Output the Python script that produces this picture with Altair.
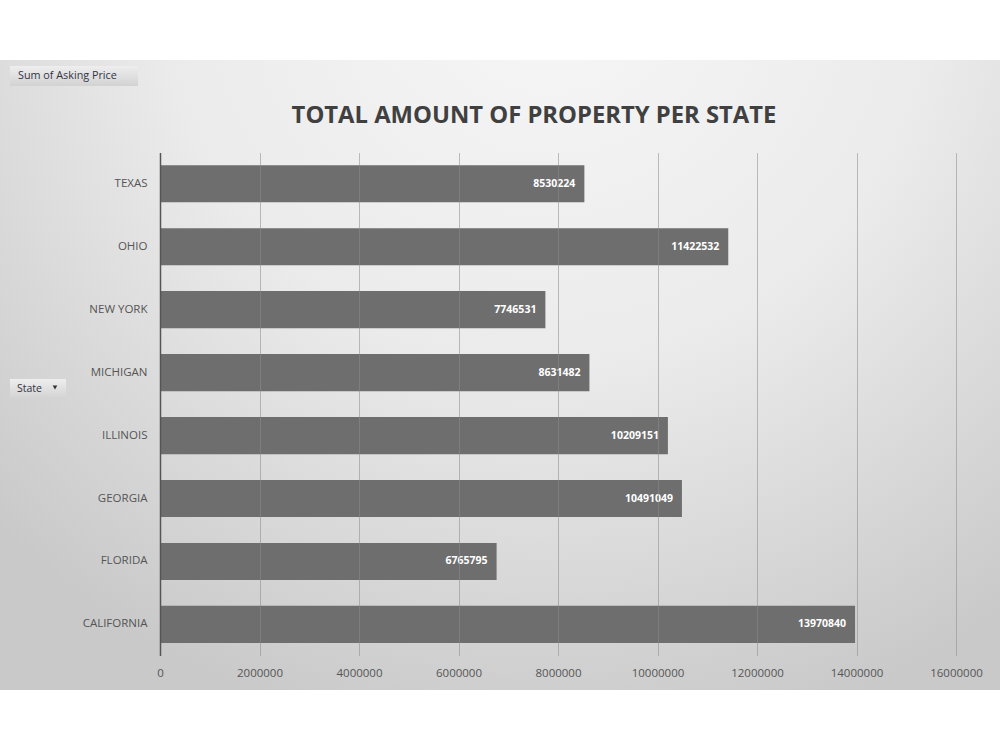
import altair as alt
import pandas as pd

# Pivot-chart values: sum of asking price per state
states = ["TEXAS", "OHIO", "NEW YORK", "MICHIGAN", "ILLINOIS", "GEORGIA", "FLORIDA", "CALIFORNIA"]
asking_totals = [8530224, 11422532, 7746531, 8631482, 10209151, 10491049, 6765795, 13970840]
x_ticks = [0, 2000000, 4000000, 6000000, 8000000, 10000000, 12000000, 14000000, 16000000]

df = pd.DataFrame({"State": states, "Total": asking_totals})

W, H = 796, 503
LEFT, TOP = 160, 152.6
LABEL_GRAY = "#555555"
FONT = "Open Sans"

one_row = alt.Data(values=[{}])

# Soft radial backdrop behind the whole chart area
backdrop = alt.Chart(one_row).mark_rect(
    fill=alt.RadialGradient(
        gradient="radial",
        x1=0.55, y1=0.1, r1=0,
        x2=0.55, y2=0.1, r2=0.78,
        stops=[
            alt.GradientStop(offset=0, color="#f7f7f7"),
            alt.GradientStop(offset=0.5, color="#ebebeb"),
            alt.GradientStop(offset=1, color="#c9c9c9"),
        ],
    )
).encode(
    x=alt.value(-LEFT), x2=alt.value(1000 - LEFT),
    y=alt.value(60 - TOP), y2=alt.value(690 - TOP),
)

x_enc = alt.X(
    "Total:Q",
    scale=alt.Scale(domain=[0, 16000000], nice=False),
    axis=alt.Axis(
        values=x_ticks, format="d", title=None, grid=True,
        gridColor="#8c8c8c", gridOpacity=0.55, gridWidth=1,
        ticks=False, domain=False, labelPadding=12,
        labelFontSize=11.5, labelColor=LABEL_GRAY, labelFont=FONT,
        labelOverlap=False, labelFlush=False, zindex=1,
    ),
)
y_enc = alt.Y(
    "State:N",
    sort=states,
    scale=alt.Scale(paddingInner=0.41, paddingOuter=0.2),
    axis=alt.Axis(
        title=None, ticks=False, domain=True, domainColor="#555555",
        domainWidth=1.5, labelPadding=13, labelFontSize=11.5,
        labelColor=LABEL_GRAY, labelFont=FONT, zindex=1,
    ),
)

bars = alt.Chart(df).mark_bar(color="#6e6e6e").encode(x=x_enc, y=y_enc)

values = alt.Chart(df).mark_text(
    align="right", baseline="middle", dx=-9, color="white",
    fontWeight="bold", fontSize=10.5, font=FONT,
).encode(x=x_enc, y=y_enc, text=alt.Text("Total:Q", format="d"))

title = alt.Chart(one_row).mark_text(
    text="TOTAL AMOUNT OF PROPERTY PER STATE", align="center", baseline="middle",
    font=FONT, fontWeight="bold", fontSize=23.8, color="#404040",
).encode(x=alt.value(534 - LEFT), y=alt.value(116 - TOP))

# Pivot field buttons
button_fill = alt.LinearGradient(
    gradient="linear", x1=0, y1=0, x2=0, y2=1,
    stops=[alt.GradientStop(offset=0, color="#eeeeee"),
           alt.GradientStop(offset=1, color="#d2d2d2")],
)
value_button = alt.Chart(one_row).mark_rect(fill=button_fill).encode(
    x=alt.value(10 - LEFT), x2=alt.value(138 - LEFT),
    y=alt.value(66 - TOP), y2=alt.value(86 - TOP),
)
value_button_text = alt.Chart(one_row).mark_text(
    text="Sum of Asking Price", align="left", baseline="middle",
    font=FONT, fontSize=10.8, color="#333344",
).encode(x=alt.value(18 - LEFT), y=alt.value(76 - TOP))

state_button = alt.Chart(one_row).mark_rect(fill=button_fill).encode(
    x=alt.value(10 - LEFT), x2=alt.value(66 - LEFT),
    y=alt.value(379 - TOP), y2=alt.value(399 - TOP),
)
state_button_text = alt.Chart(one_row).mark_text(
    text="State", align="left", baseline="middle",
    font=FONT, fontSize=10.5, color="#333344",
).encode(x=alt.value(17 - LEFT), y=alt.value(389 - TOP))
state_button_arrow = alt.Chart(one_row).mark_point(
    shape="triangle-down", filled=True, color="#333333", size=22, opacity=1,
).encode(x=alt.value(55 - LEFT), y=alt.value(387.5 - TOP))

chart = alt.layer(
    backdrop, bars, values, title,
    value_button, value_button_text,
    state_button, state_button_text, state_button_arrow,
).properties(
    width=W, height=H,
    padding={"left": LEFT, "top": TOP, "right": 1000 - LEFT - W, "bottom": 750 - TOP - H},
    autosize="none",
    background="white",
).configure_view(stroke=None)

chart.save("out.html", embed_options={"renderer": "svg", "actions": False})
